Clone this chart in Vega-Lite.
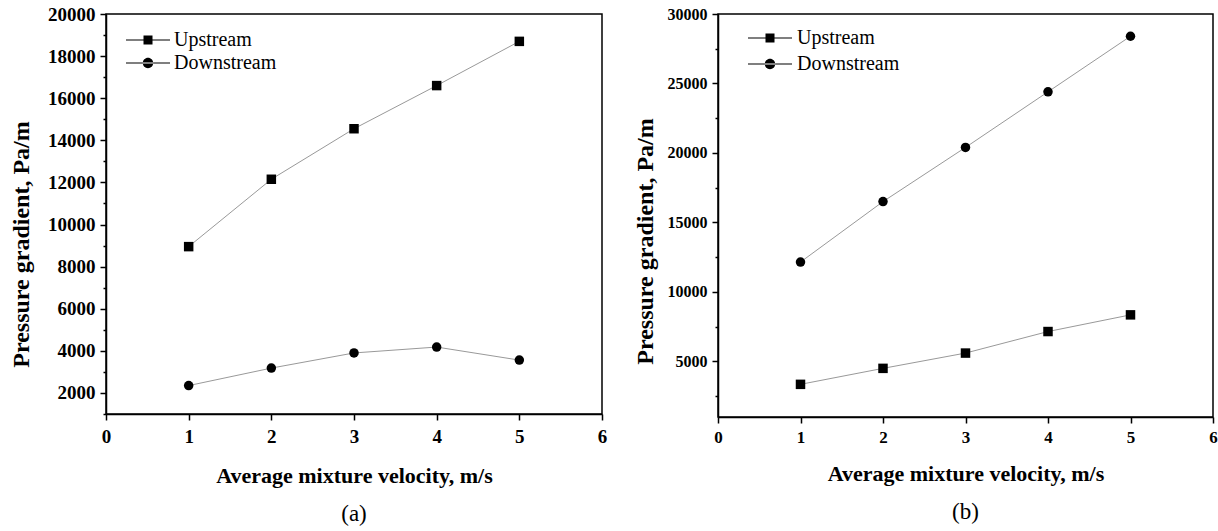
{
  "$schema": "https://vega.github.io/schema/vega-lite/v6.json",
  "background": "white",
  "padding": {"left": 8, "top": 4, "right": 3, "bottom": 3},
  "data": {"values": [
    {"panel": "a", "series": "Upstream", "v": 1, "p": 8950},
    {"panel": "a", "series": "Upstream", "v": 2, "p": 12150},
    {"panel": "a", "series": "Upstream", "v": 3, "p": 14550},
    {"panel": "a", "series": "Upstream", "v": 4, "p": 16600},
    {"panel": "a", "series": "Upstream", "v": 5, "p": 18700},
    {"panel": "a", "series": "Downstream", "v": 1, "p": 2350},
    {"panel": "a", "series": "Downstream", "v": 2, "p": 3180},
    {"panel": "a", "series": "Downstream", "v": 3, "p": 3900},
    {"panel": "a", "series": "Downstream", "v": 4, "p": 4180},
    {"panel": "a", "series": "Downstream", "v": 5, "p": 3560},
    {"panel": "b", "series": "Upstream", "v": 1, "p": 3350},
    {"panel": "b", "series": "Upstream", "v": 2, "p": 4500},
    {"panel": "b", "series": "Upstream", "v": 3, "p": 5600},
    {"panel": "b", "series": "Upstream", "v": 4, "p": 7150},
    {"panel": "b", "series": "Upstream", "v": 5, "p": 8350},
    {"panel": "b", "series": "Downstream", "v": 1, "p": 12150},
    {"panel": "b", "series": "Downstream", "v": 2, "p": 16500},
    {"panel": "b", "series": "Downstream", "v": 3, "p": 20400},
    {"panel": "b", "series": "Downstream", "v": 4, "p": 24400},
    {"panel": "b", "series": "Downstream", "v": 5, "p": 28400}
  ]},
  "config": {
    "font": "Liberation Serif",
    "view": {"stroke": "black", "strokeWidth": 1.5},
    "axis": {
      "labelFont": "Liberation Serif", "labelFontWeight": "bold", "labelFontSize": 19, "labelColor": "black",
      "titleFont": "Liberation Serif", "titleFontWeight": "bold", "titleFontSize": 22, "titleColor": "black",
      "domainColor": "black", "domainWidth": 1.5, "tickColor": "black", "tickWidth": 1.5, "grid": false
    },
    "legend": {
      "labelFont": "Liberation Serif", "labelFontSize": 20, "labelFontWeight": "normal", "labelColor": "black",
      "padding": 0
    },
    "title": {"font": "Liberation Serif", "fontSize": 23, "fontWeight": "normal", "color": "black"},
    "concat": {"spacing": 24}
  },
  "resolve": {"scale": {"shape": "independent", "y": "independent", "x": "independent"}, "legend": {"shape": "independent"}},
  "hconcat": [
    {
      "width": 496, "height": 400,
      "title": {"text": "(a)", "orient": "bottom", "offset": 17},
      "transform": [{"filter": "datum.panel === 'a'"}],
      "encoding": {
        "x": {"field": "v", "type": "quantitative", "scale": {"domain": [0, 6], "nice": false},
          "axis": {"title": "Average mixture velocity, m/s", "values": [0, 0.5, 1, 1.5, 2, 2.5, 3, 3.5, 4, 4.5, 5, 5.5, 6], "format": "d",
            "labelExpr": "datum.value % 1 ? '' : datum.label", "tickSize": {"condition": {"test": "datum.value % 1 !== 0", "value": 3}, "value": 6},
            "labelPadding": 7, "titlePadding": 19, "labelFlush": false}},
        "y": {"field": "p", "type": "quantitative", "scale": {"domain": [1000, 20000], "nice": false, "zero": false},
          "axis": {"title": "Pressure gradient, Pa/m", "titleFontSize": 24, "titleY": 230, "values": [1000, 2000, 3000, 4000, 5000, 6000, 7000, 8000, 9000, 10000, 11000, 12000, 13000, 14000, 15000, 16000, 17000, 18000, 19000, 20000],
            "labelExpr": "datum.value % 2000 ? '' : replace(datum.label, ',', '')", "tickSize": {"condition": {"test": "datum.value % 2000 !== 0", "value": 3}, "value": 6},
            "labelPadding": 5, "titlePadding": 14, "labelFlush": false}}
      },
      "layer": [
        {"mark": {"type": "line", "color": "#999999", "strokeWidth": 1}, "encoding": {"detail": {"field": "series"}}},
        {"mark": {"type": "point", "filled": true, "color": "black", "opacity": 1, "size": 90},
          "encoding": {"shape": {"field": "series", "type": "nominal", "scale": {"domain": ["Upstream", "Downstream"], "range": ["square", "circle"]}, "legend": null}}},
        {"mark": {"type": "point", "filled": true, "color": "black", "opacity": 1, "size": 0},
          "encoding": {"shape": {"field": "series", "type": "nominal",
            "scale": {"domain": ["Upstream", "Downstream"], "range": ["M-2.2,-0.045H2.2V0.045H-2.2ZM-0.45,-0.45H0.45V0.45H-0.45Z", "M-2.2,-0.045H2.2V0.045H-2.2ZM-0.52,0A0.52,0.52,0,1,0,0.52,0A0.52,0.52,0,1,0,-0.52,0Z"]},
            "legend": {"title": null, "orient": "none", "legendX": 31, "legendY": 15, "symbolSize": 400, "labelOffset": 15, "rowPadding": 2, "symbolOpacity": 1}}}}
      ],
      "resolve": {"scale": {"shape": "independent"}}
    },
    {
      "width": 495, "height": 403,
      "title": {"text": "(b)", "orient": "bottom", "offset": 17},
      "transform": [{"filter": "datum.panel === 'b'"}],
      "encoding": {
        "x": {"field": "v", "type": "quantitative", "scale": {"domain": [0, 6], "nice": false},
          "axis": {"title": "Average mixture velocity, m/s", "values": [0, 0.5, 1, 1.5, 2, 2.5, 3, 3.5, 4, 4.5, 5, 5.5, 6], "format": "d", "labelFontSize": 17,
            "labelExpr": "datum.value % 1 ? '' : datum.label", "tickSize": {"condition": {"test": "datum.value % 1 !== 0", "value": 3}, "value": 6},
            "labelPadding": 6, "titlePadding": 18, "labelFlush": false}},
        "y": {"field": "p", "type": "quantitative", "scale": {"domain": [1000, 30000], "nice": false, "zero": false},
          "axis": {"title": "Pressure gradient, Pa/m", "titleFontSize": 24, "titleY": 227, "labelFontSize": 16, "values": [2500, 5000, 7500, 10000, 12500, 15000, 17500, 20000, 22500, 25000, 27500, 30000],
            "labelExpr": "datum.value % 5000 ? '' : replace(datum.label, ',', '')", "tickSize": {"condition": {"test": "datum.value % 5000 !== 0", "value": 3}, "value": 6},
            "labelPadding": 5, "titlePadding": 10, "labelFlush": false}}
      },
      "layer": [
        {"mark": {"type": "line", "color": "#999999", "strokeWidth": 1}, "encoding": {"detail": {"field": "series"}}},
        {"mark": {"type": "point", "filled": true, "color": "black", "opacity": 1, "size": 90},
          "encoding": {"shape": {"field": "series", "type": "nominal", "scale": {"domain": ["Upstream", "Downstream"], "range": ["square", "circle"]}, "legend": null}}},
        {"mark": {"type": "point", "filled": true, "color": "black", "opacity": 1, "size": 0},
          "encoding": {"shape": {"field": "series", "type": "nominal",
            "scale": {"domain": ["Upstream", "Downstream"], "range": ["M-2.2,-0.045H2.2V0.045H-2.2ZM-0.45,-0.45H0.45V0.45H-0.45Z", "M-2.2,-0.045H2.2V0.045H-2.2ZM-0.52,0A0.52,0.52,0,1,0,0.52,0A0.52,0.52,0,1,0,-0.52,0Z"]},
            "legend": {"title": null, "orient": "none", "legendX": 41, "legendY": 13, "symbolSize": 400, "labelOffset": 16, "rowPadding": 5, "symbolOpacity": 1}}}}
      ],
      "resolve": {"scale": {"shape": "independent"}}
    }
  ]
}
